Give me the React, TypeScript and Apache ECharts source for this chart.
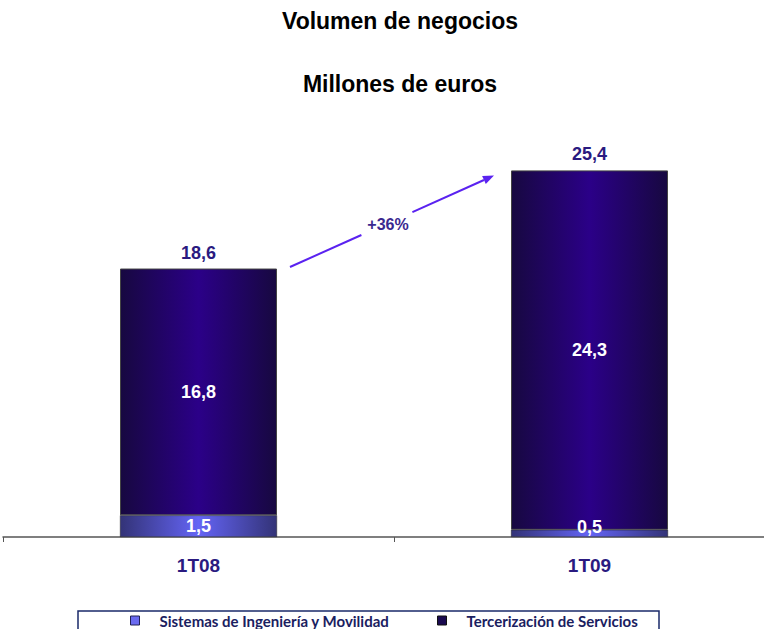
import React, { useEffect, useRef } from "react";
import * as echarts from "echarts";

const categories = ["1T08", "1T09"];
const sistemasValues = [1.5, 0.5];
const totalValues = [18.6, 25.4];
const terceriaLabels = ["16,8", "24,3"];
const sistemasLabels = ["1,5", "0,5"];
const totalLabels = ["18,6", "25,4"];
const seriesNames = ["Sistemas de Ingeniería y Movilidad", "Tercerización de Servicios"];
const growthLabel = "+36%";

export default function App() {
  const ref = useRef<HTMLDivElement>(null);
  useEffect(() => {
    if (!ref.current) return;
    const chart = echarts.init(ref.current, null, { renderer: "svg" });
    const darkGrad = new echarts.graphic.LinearGradient(0, 0, 1, 0, [
      { offset: 0, color: "#170840" },
      { offset: 0.5, color: "#2b0088" },
      { offset: 1, color: "#170840" },
    ]);
    const lightGrad = new echarts.graphic.LinearGradient(0, 0, 1, 0, [
      { offset: 0, color: "#333377" },
      { offset: 0.5, color: "#6464f5" },
      { offset: 1, color: "#333377" },
    ]);
    const numFont = "'Liberation Sans', Arial, sans-serif";
    const upperHeights = totalValues.map((t, i) => +(t - sistemasValues[i]).toFixed(2));

    // arrow geometry
    const x0 = 290, y0 = 267, x1 = 494, y1 = 175.5;
    const dx = x1 - x0, dy = y1 - y0;
    const len = Math.sqrt(dx * dx + dy * dy);
    const ux = dx / len, uy = dy / len;
    const px = -uy, py = ux;
    const ah = 11, aw = 4.5;
    const bx = x1 - ux * ah, by = y1 - uy * ah;
    const gapA = 0.35, gapB = 0.6;
    const arrowColor = "#5a22f0";

    const legendText = {
      fontFamily: "Lato, sans-serif",
      fontSize: 15,
      fontWeight: "bold",
      color: "#1a2060",
      padding: [0, 0, 0, 15],
    };

    chart.setOption({
      animation: false,
      backgroundColor: "#ffffff",
      title: [
        {
          text: "Volumen de negocios",
          left: 395,
          top: 4,
          textAlign: "center",
          textStyle: { fontFamily: numFont, fontSize: 23, fontWeight: "bold", color: "#000" },
        },
        {
          text: "Millones de euros",
          left: 395,
          top: 67,
          textAlign: "center",
          textStyle: { fontFamily: numFont, fontSize: 23, fontWeight: "bold", color: "#000" },
        },
      ],
      legend: [
        {
          data: [seriesNames[0]],
          left: 125,
          top: 608,
          itemWidth: 9,
          itemHeight: 9,
          icon: "rect",
          itemStyle: { color: "#6a6af0", borderColor: "#222255", borderWidth: 1 },
          textStyle: legendText,
        },
        {
          data: [seriesNames[1]],
          left: 432,
          top: 608,
          itemWidth: 9,
          itemHeight: 9,
          icon: "rect",
          itemStyle: { color: "#1a0a50", borderColor: "#111", borderWidth: 1 },
          textStyle: legendText,
        },
      ],
      grid: { left: 3, width: 782, top: 104, bottom: 92, outerBoundsMode: "none", containLabel: false },
      xAxis: {
        type: "category",
        data: categories,
        axisLine: { lineStyle: { color: "#555", width: 1.5 } },
        axisTick: { show: true, length: 5, lineStyle: { color: "#555" } },
        axisLabel: { margin: 19, fontFamily: numFont, fontSize: 19, fontWeight: "bold", color: "#2a1a80" },
      },
      yAxis: { type: "value", min: 0, max: 30, show: false, splitLine: { show: false } },
      series: [
        {
          name: seriesNames[0],
          type: "bar",
          stack: "t",
          barWidth: 157,
          data: sistemasValues.map((v, i) => ({
            value: v,
            label: {
              show: true,
              position: "inside",
              offset: i === 1 ? [0, -6] : [0, 0],
              formatter: sistemasLabels[i],
              color: "#fff",
              fontFamily: numFont,
              fontSize: 18,
              fontWeight: "bold",
            },
          })),
          itemStyle: { color: lightGrad, borderColor: "#222", borderWidth: 0.5 },
        },
        {
          name: seriesNames[1],
          type: "bar",
          stack: "t",
          barWidth: 157,
          data: upperHeights.map((v, i) => ({
            value: v,
            label: {
              show: true,
              position: "inside",
              formatter: terceriaLabels[i],
              color: "#fff",
              fontFamily: numFont,
              fontSize: 18,
              fontWeight: "bold",
            },
          })),
          itemStyle: { color: darkGrad, borderColor: "#444", borderWidth: 1 },
        },
        {
          name: "total",
          type: "scatter",
          symbolSize: 0,
          itemStyle: { opacity: 1 },
          data: totalValues,
          label: {
            show: true,
            position: "top",
            distance: 7,
            formatter: (p: any) => totalLabels[p.dataIndex],
            fontFamily: numFont,
            fontSize: 18,
            fontWeight: "bold",
            color: "#2a1a80",
          },
        },
      ],
      graphic: [
        {
          type: "line",
          shape: { x1: x0, y1: y0, x2: x0 + dx * gapA, y2: y0 + dy * gapA },
          style: { stroke: arrowColor, lineWidth: 2 },
        },
        {
          type: "line",
          shape: { x1: x0 + dx * gapB, y1: y0 + dy * gapB, x2: bx, y2: by },
          style: { stroke: arrowColor, lineWidth: 2 },
        },
        {
          type: "polygon",
          shape: {
            points: [
              [x1, y1],
              [bx + px * aw, by + py * aw],
              [bx - px * aw, by - py * aw],
            ],
          },
          style: { fill: arrowColor },
        },
        {
          type: "text",
          x: 388,
          y: 224,
          style: {
            text: growthLabel,
            x: 0,
            y: 0,
            align: "center",
            verticalAlign: "middle",
            fill: "#3a2890",
            font: "bold 16px 'Liberation Sans', Arial, sans-serif",
          },
        },
        {
          type: "rect",
          shape: { x: 78, y: 611, width: 581, height: 30 },
          style: { fill: "none", stroke: "#1a2a6a", lineWidth: 1.5 },
          z: 10,
        },
      ],
    });
    return () => chart.dispose();
  }, []);
  return (
    <div
      ref={ref}
      style={{ position: "absolute", left: 0, top: 0, width: 764, height: 629 }}
    />
  );
}
